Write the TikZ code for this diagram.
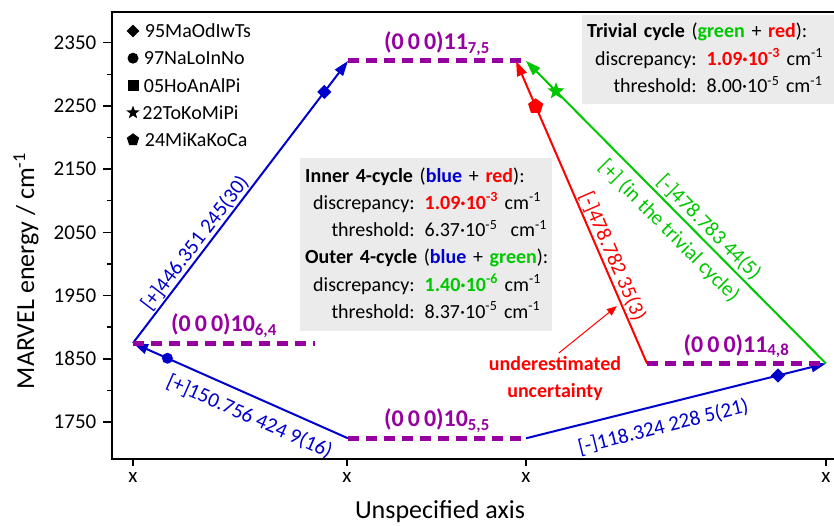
\documentclass[tikz,border=0pt]{standalone}
\usepackage{fontspec}
\setmainfont{Carlito}
\usetikzlibrary{arrows.meta, positioning, shapes.geometric}

\definecolor{mblue}{RGB}{0,0,205}
\definecolor{mred}{RGB}{255,0,0}
\definecolor{mgreen}{RGB}{0,200,0}
\definecolor{lvl}{RGB}{150,0,160}
\definecolor{boxgray}{RGB}{235,235,235}

% energy in cm-1 -> vertical position in pt
\newcommand{\en}[1]{103+(#1-1750)*0.632}
\newcommand{\fs}[2]{\fontsize{#1}{#2}\selectfont}

\begin{document}
\begin{tikzpicture}[
  x=1pt, y=1pt,
  axisline/.style={line width=1.8pt},
  tick/.style={line width=1.4pt},
  ticklabel/.style={font=\fs{21}{25}, inner sep=6pt},
  axlabel/.style={font=\fs{26}{30}},
  level/.style={line width=5pt, lvl, dash pattern=on 11pt off 7pt},
  lvlabel/.style={font=\fs{24}{28}\bfseries, text=lvl, inner sep=3pt},
  trans/.style={line width=2pt, -{Triangle[length=15pt, width=10pt]}},
  tlabel/.style={font=\fs{21}{25}, sloped, inner xsep=0pt, inner ysep=#1},
  tlabel/.default=1pt,
  mkdiamond/.style={diamond, fill=#1, inner sep=0pt, minimum size=15pt},
  mkcircle/.style={circle, fill=#1, inner sep=0pt, minimum size=11pt},
  mksquare/.style={rectangle, fill=#1, inner sep=0pt, minimum size=11pt},
  mkstar/.style={star, star points=5, star point ratio=2.4, fill=#1, inner sep=0pt, minimum size=18pt},
  mkpenta/.style={regular polygon, regular polygon sides=5, fill=#1, inner sep=0pt, minimum size=16pt},
  legtext/.style={font=\fs{20}{24}, inner xsep=0pt},
  infobox/.style={fill=boxgray, anchor=north west, inner xsep=5pt, inner ysep=3pt, font=\fs{20}{27.6}, align=left},
  note/.style={font=\fs{20}{27}\bfseries, text=mred, align=center},
  notearrow/.style={mred, line width=1pt, -{Triangle[length=10pt, width=8pt]}, shorten >=5pt}
]
  \useasboundingbox (0,0) rectangle (834,525);

  % Cycle summaries (under the frame)
  \node[infobox, text width=250pt] (trivial) at (582,510) {%
    \begin{tabular}{@{\hspace{8pt}}r@{\hspace{10pt}}l@{}}
      \multicolumn{2}{@{}l@{}}{\textbf{Trivial cycle} (\textcolor{mgreen}{\textbf{green}} + \textcolor{mred}{\textbf{red}}):}\\
      discrepancy: & \textcolor{mred}{\textbf{1.09·10\textsuperscript{-3}}} cm\textsuperscript{-1}\\
      threshold: & 8.00·10\textsuperscript{-5} cm\textsuperscript{-1}
    \end{tabular}};
  \node[infobox, text width=242pt, inner ysep=5pt, font=\fs{20}{27.2}] (cycles) at (300,367) {%
    \begin{tabular}{@{\hspace{8pt}}r@{\hspace{10pt}}l@{}}
      \multicolumn{2}{@{}l@{}}{\textbf{Inner 4-cycle} (\textcolor{mblue}{\textbf{blue}} + \textcolor{mred}{\textbf{red}}):}\\
      discrepancy: & \textcolor{mred}{\textbf{1.09·10\textsuperscript{-3}}} cm\textsuperscript{-1}\\
      threshold: & 6.37·10\textsuperscript{-5}\ \ cm\textsuperscript{-1}\\
      \multicolumn{2}{@{}l@{}}{\textbf{Outer 4-cycle} (\textcolor{mblue}{\textbf{blue}} + \textcolor{mgreen}{\textbf{green}}):}\\
      discrepancy: & \textcolor{mgreen}{\textbf{1.40·10\textsuperscript{-6}}} cm\textsuperscript{-1}\\
      threshold: & 8.37·10\textsuperscript{-5} cm\textsuperscript{-1}
    \end{tabular}};

  % Frame, open on the right
  \draw[axisline] (834,513) -- (112,513) -- (112,66) -- (834,66);

  % Ticks
  \foreach \e in {1750,1850,...,2350}
    \draw[tick] (112,{\en{\e}}) -- ++(-9,0) node[left, ticklabel] (yt\e) {\e};
  \foreach \e in {1800,1900,...,2300}
    \draw[tick] (112,{\en{\e}}) -- ++(-5,0);
  \foreach \x [count=\i] in {133,347,526,826}
    \draw[tick] (\x,66) -- ++(0,-7) node[below, ticklabel] (xt\i) {x};

  \node[axlabel, rotate=90] (ylab) at (26,254) {MARVEL energy / cm\textsuperscript{-1}};
  \node[axlabel] (xlab) at (440,13) {Unspecified axis};

  % Legend
  \node[mkdiamond=black, minimum size=13pt] (m1) at (133,494) {};
  \node[legtext, right=5pt of m1] (l1) {95MaOdIwTs};
  \node[mkcircle=black] (m2) at (133,466.8) {};
  \node[legtext, right=5pt of m2] (l2) {97NaLoInNo};
  \node[mksquare=black] (m3) at (133,439.6) {};
  \node[legtext, right=5pt of m3] (l3) {05HoAnAlPi};
  \node[mkstar=black, minimum size=14pt] (m4) at (133,412.4) {};
  \node[legtext, right=5pt of m4] (l4) {22ToKoMiPi};
  \node[mkpenta=black, minimum size=13pt] (m5) at (133,385.2) {};
  \node[legtext, right=6pt of m5] (l5) {24MiKaKoCa};

  % Level ends
  \coordinate (a1064) at (133,{\en{1874.97}});
  \coordinate (b1064) at (315,{\en{1874.97}});
  \coordinate (a1055) at (348,{\en{1724.21}});
  \coordinate (b1055) at (526,{\en{1724.21}});
  \coordinate (a1148) at (647,{\en{1842.54}});
  \coordinate (b1148) at (826,{\en{1842.54}});
  \coordinate (a1175) at (348,{\en{2321.32}});
  \coordinate (b1175) at (526,{\en{2321.32}});

  % Transitions
  \draw[trans, mblue] (a1064) -- node[mkdiamond=mblue, pos=0.89] (d1) {}
    node[tlabel, above, pos=0.33] (t1) {[+]446.351 245(30)} (a1175);
  \draw[trans, mblue] (a1055) -- node[mkcircle=mblue, pos=0.84] (d2) {}
    node[tlabel=10pt, below, pos=0.42] (t2) {[+]150.756 424 9(16)} (a1064);
  \draw[trans, mblue] (b1055) -- node[mkdiamond=mblue, pos=0.84] (d3) {}
    node[tlabel=12pt, below, pos=0.44] (t3) {[-]118.324 228 5(21)} (b1148);
  \draw[trans, mred] (a1148) -- node[mkpenta=mred, pos=0.85] (d4) {}
    node[tlabel, above, pos=0.34] (t4) {[-]478.782 35(3)}
    coordinate[pos=0.2] (redmark) ([xshift=-10pt]b1175);
  \draw[trans, mgreen] (b1148) -- node[mkstar=mgreen, pos=0.9] (d5) {}
    node[tlabel=2.5pt, above, pos=0.42] (t5) {[-]478.783 44(5)}
    node[tlabel=8pt, below, pos=0.48] (t6) {[+] (in the trivial cycle)} (b1175);

  % Warning note
  \node[note] (uncert) at (555,146.5) {underestimated\\uncertainty};
  \draw[notearrow] ([xshift=4pt]uncert.north) -- (redmark);

  % Energy levels
  \draw[level] (a1064) -- node[lvlabel, above] (n1064) {(0\,0\,0)10\textsubscript{6,4}} (b1064);
  \draw[level] (a1055) -- node[lvlabel, above] (n1055) {(0\,0\,0)10\textsubscript{5,5}} (b1055);
  \draw[level] (a1148) -- node[lvlabel, above] (n1148) {(0\,0\,0)11\textsubscript{4,8}} (b1148);
  \draw[level] (a1175) -- node[lvlabel, above] (n1175) {(0\,0\,0)11\textsubscript{7,5}} (b1175);
\end{tikzpicture}
\end{document}
